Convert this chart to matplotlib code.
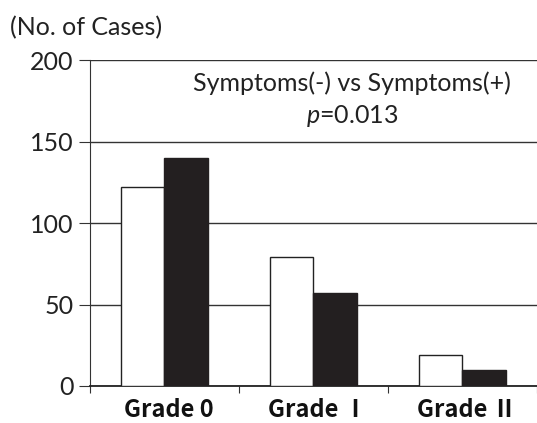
import matplotlib.pyplot as plt
import numpy as np

plt.rcParams['mathtext.fontset'] = 'custom'
plt.rcParams['mathtext.rm'] = 'Lato'
plt.rcParams['mathtext.it'] = 'Lato:italic'

grados = ['Grade 0', 'Grade \u2160', 'Grade \u2161']
sintomas_neg = [122, 79, 19]
sintomas_pos = [140, 57, 10]

fig = plt.figure(figsize=(5.37, 4.23), dpi=100)
ax = fig.add_axes([0.1676, 0.0875, 0.832, 0.7705])

x = np.arange(len(grados))
ancho = 0.29
ax.bar(x - ancho / 2, sintomas_neg, ancho, color='white', edgecolor='#222222', linewidth=1.0, zorder=3)
ax.bar(x + ancho / 2, sintomas_pos, ancho, color='#231f20', edgecolor='#231f20', linewidth=1.0, zorder=3)

ax.set_xlim(-0.5, 2.5)
ax.set_ylim(0, 200)
ax.set_yticks([0, 50, 100, 150, 200])
ax.yaxis.grid(True, color='#333333', linewidth=1.0, zorder=0)

# ticks de x en los limites de categoria, etiquetas al centro
ax.set_xticks([-0.5, 0.5, 1.5, 2.5])
ax.set_xticklabels([])
ax.set_xticks(x + 0.03, minor=True)
ax.set_xticklabels(grados, minor=True, family=['Noto Sans CJK JP', 'DejaVu Sans'],
                   fontweight='bold', fontsize=17, color='#111111')
ax.tick_params(axis='x', which='minor', length=0, pad=9)
ax.tick_params(axis='x', which='major', direction='out', length=5, color='#333333')
ax.tick_params(axis='y', direction='out', length=8, color='#333333', pad=4)
for lbl in ax.get_yticklabels():
    lbl.set_family('Lato')
    lbl.set_fontsize(18)
    lbl.set_color('#222222')

for lado in ['top', 'right']:
    ax.spines[lado].set_visible(False)
ax.spines['left'].set_color('#333333')
ax.spines['bottom'].set_color('#222222')
ax.spines['bottom'].set_linewidth(1.3)

fig.text(0.018, 0.916, '(No. of Cases)', family='Lato', fontsize=18, color='#222222')
ax.text(0.586, 0.929, 'Symptoms(-) vs Symptoms(+)', transform=ax.transAxes, ha='center',
        va='center', family='Lato', fontsize=18, color='#222222')
ax.text(0.586, 0.828, '$\\it{p}$=0.013', transform=ax.transAxes, ha='center',
        va='center', family='Lato', fontsize=18, color='#222222')

plt.savefig('out.png', dpi=100)
